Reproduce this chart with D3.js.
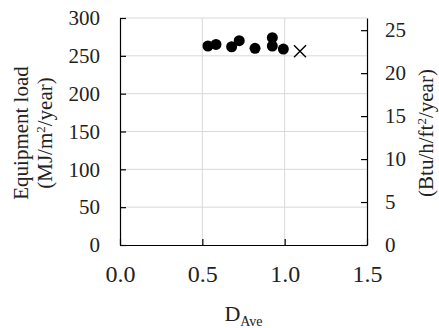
<!DOCTYPE html>
<html>
<head>
<meta charset="utf-8">
<script src="https://cdn.jsdelivr.net/npm/d3@7"></script>
<style>
  body { margin: 0; background: #fff; }
  svg text { font-family: "Liberation Serif", "Times New Roman", serif; fill: #222; }
</style>
</head>
<body>
<div class="chart"></div>
<script>
// data
var dAve =   [0.534, 0.583, 0.678, 0.724, 0.820, 0.925, 0.925, 0.992];
var eqLoad = [263,   265,   262,   270,   260,   274,   263,   259];
var crossX = [1.093];
var crossY = [256];
var xTicks = [0, 0.5, 1.0, 1.5];
var yTicks = [0, 50, 100, 150, 200, 250, 300];
var y2Ticks = [0, 5, 10, 15, 20, 25];
var mjPerBtu = 11.356; // MJ/m2/year per unit of the right axis

var width = 439, height = 328;
var margin = {left: 120, right: 72, top: 18, bottom: 83};

var svg = d3.select(".chart").append("svg")
    .attr("width", width)
    .attr("height", height);

var x = d3.scaleLinear().domain([0, 1.5]).range([margin.left, width - margin.right]);
var y = d3.scaleLinear().domain([0, 300]).range([height - margin.bottom, margin.top]);
var y2 = d3.scaleLinear().domain([0, 300 / mjPerBtu]).range(y.range());

// grid
svg.append("g").selectAll("line")
    .data(yTicks.slice(1))
    .enter().append("line")
    .attr("x1", x(0)).attr("x2", x(1.5))
    .attr("y1", function(d) { return y(d); })
    .attr("y2", function(d) { return y(d); })
    .attr("stroke", "#d9d9d9");
svg.append("g").selectAll("line")
    .data([0.5, 1.0])
    .enter().append("line")
    .attr("y1", y(0)).attr("y2", y(300))
    .attr("x1", function(d) { return x(d); })
    .attr("x2", function(d) { return x(d); })
    .attr("stroke", "#d9d9d9");

// axes
var xAxis = svg.append("g")
    .attr("transform", "translate(0," + y(0) + ")")
    .call(d3.axisBottom(x).tickValues(xTicks).tickFormat(d3.format(".1f")).tickSizeInner(-6).tickSizeOuter(0).tickPadding(20));
xAxis.selectAll("text").style("font-size", "24px");

var yAxis = svg.append("g")
    .attr("transform", "translate(" + x(0) + ",0)")
    .call(d3.axisLeft(y).tickValues(yTicks).tickSizeInner(-6).tickSizeOuter(0).tickPadding(20));
yAxis.selectAll("text").style("font-size", "21px");

var y2Axis = svg.append("g")
    .attr("transform", "translate(" + x(1.5) + ",0)")
    .call(d3.axisRight(y2).tickValues(y2Ticks).tickSizeInner(-6).tickSizeOuter(0).tickPadding(18));
y2Axis.selectAll("text").style("font-size", "21px");

[xAxis, yAxis, y2Axis].forEach(function(a) {
  a.attr("font-family", null).attr("font-size", null);
  a.selectAll("path, line").attr("stroke", "#000").attr("stroke-width", 1.2);
  a.selectAll("text").attr("fill", "#222");
});

// points
svg.append("g").selectAll("circle")
    .data(dAve)
    .enter().append("circle")
    .attr("cx", function(d) { return x(d); })
    .attr("cy", function(d, i) { return y(eqLoad[i]); })
    .attr("r", 5.5)
    .attr("fill", "#000");

// cross marker
svg.append("g").selectAll("path")
    .data(crossX)
    .enter().append("path")
    .attr("d", function(d, i) {
      var cx = x(d), cy = y(crossY[i]), s = 6;
      return "M" + (cx - s) + "," + (cy - s) + "L" + (cx + s) + "," + (cy + s) +
             "M" + (cx - s) + "," + (cy + s) + "L" + (cx + s) + "," + (cy - s);
    })
    .attr("stroke", "#000")
    .attr("stroke-width", 1.4)
    .attr("fill", "none");

// axis titles
var ylab = svg.append("text")
    .attr("transform", "translate(28,133) rotate(-90)")
    .attr("text-anchor", "middle")
    .style("font-size", "21px");
ylab.append("tspan").attr("x", 0).attr("y", 0).text("Equipment load");
var l2 = ylab.append("tspan").attr("x", 0).attr("y", 24).text("(MJ/m");
l2.append("tspan").attr("dy", -7).style("font-size", "13px").text("2");
l2.append("tspan").attr("dy", 7).text("/year)");

var y2lab = svg.append("text")
    .attr("transform", "translate(433,133) rotate(-90)")
    .attr("text-anchor", "middle")
    .style("font-size", "21px");
y2lab.append("tspan").text("(Btu/h/ft");
y2lab.append("tspan").attr("dy", -7).style("font-size", "13px").text("2");
y2lab.append("tspan").attr("dy", 7).text("/year)");

var xlab = svg.append("text")
    .attr("x", x(0.75))
    .attr("y", 321)
    .attr("text-anchor", "middle")
    .style("font-size", "22px");
xlab.append("tspan").text("D");
xlab.append("tspan").attr("dy", 5).style("font-size", "14px").text("Ave");
</script>
</body>
</html>
